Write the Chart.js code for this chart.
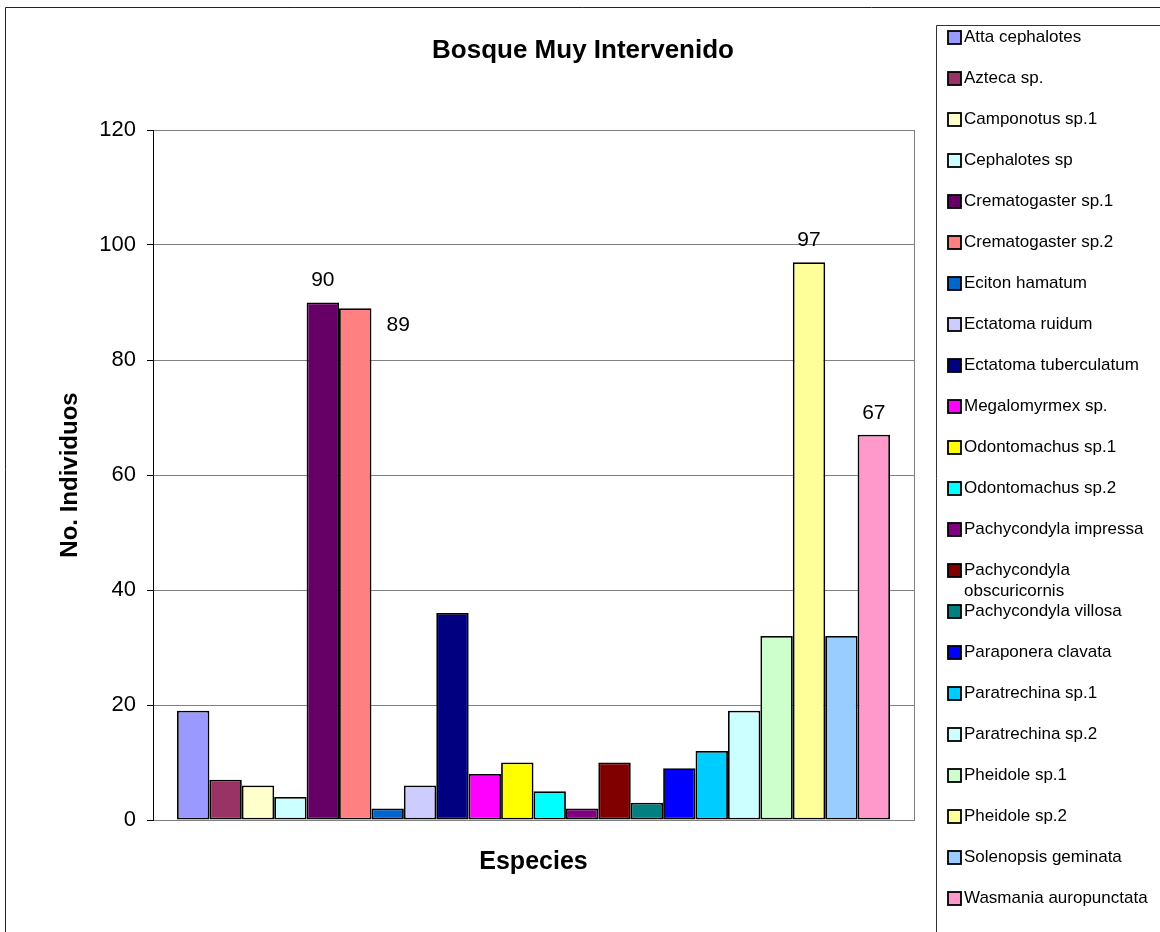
<!DOCTYPE html>
<html>
<head>
<meta charset="utf-8">
<title>Bosque Muy Intervenido</title>
<script src="https://cdn.jsdelivr.net/npm/chart.js@4.4.0/dist/chart.umd.min.js"></script>
<style>
    body { margin: 0; background: #fff; }
    #wrap { width: 1160px; height: 932px; }
</style>
</head>
<body>
<div id="wrap"><canvas id="myChart" width="1160" height="932"></canvas></div>
<script>
const especies = [
    'Atta cephalotes', 'Azteca sp.', 'Camponotus sp.1', 'Cephalotes sp',
    'Crematogaster sp.1', 'Crematogaster sp.2', 'Eciton hamatum', 'Ectatoma ruidum',
    'Ectatoma tuberculatum', 'Megalomyrmex sp.', 'Odontomachus sp.1', 'Odontomachus sp.2',
    'Pachycondyla impressa', 'Pachycondyla obscuricornis', 'Pachycondyla villosa',
    'Paraponera clavata', 'Paratrechina sp.1', 'Paratrechina sp.2', 'Pheidole sp.1',
    'Pheidole sp.2', 'Solenopsis geminata', 'Wasmania auropunctata'
];
const individuos = [19, 7, 6, 4, 90, 89, 2, 6, 36, 8, 10, 5, 2, 10, 3, 9, 12, 19, 32, 97, 32, 67];
const colores = [
    '#9999FF', '#993366', '#FFFFCC', '#CCFFFF', '#660066', '#FF8080', '#0066CC', '#CCCCFF',
    '#000080', '#FF00FF', '#FFFF00', '#00FFFF', '#800080', '#800000', '#008080', '#0000FF',
    '#00CCFF', '#CCFFFF', '#CCFFCC', '#FFFF99', '#99CCFF', '#FF99CC'
];
// only these bars get their value written next to them
const conValor = ['Crematogaster sp.1', 'Crematogaster sp.2', 'Pheidole sp.2', 'Wasmania auropunctata'];
const yTicks = [0, 20, 40, 60, 80, 100, 120];

const FONT = '"Liberation Sans", Arial, sans-serif';

// wrap legend text that is wider than the box
wrapText = function (ctx, text, maxW) {
    const words = text.split(' ');
    const lines = [];
    let cur = '';
    words.forEach(function (w) {
        const test = cur ? cur + ' ' + w : w;
        if (cur && ctx.measureText(test).width > maxW) {
            lines.push(cur);
            cur = w;
        } else {
            cur = test;
        }
    });
    lines.push(cur);
    return lines;
}

const marco = {
    id: 'marco',
    beforeDraw(chart) {
        const ctx = chart.ctx;
        ctx.save();
        ctx.fillStyle = '#fff';
        ctx.fillRect(0, 0, chart.width, chart.height);
        // outer chart frame
        ctx.strokeStyle = '#222';
        ctx.lineWidth = 1;
        ctx.beginPath();
        ctx.moveTo(5.5, chart.height);
        ctx.lineTo(5.5, 7.5);
        ctx.lineTo(chart.width, 7.5);
        ctx.stroke();
        ctx.restore();
    },
    afterDatasetsDraw(chart) {
        const ctx = chart.ctx;
        const a = chart.chartArea;
        ctx.save();
        // right edge of the plot area
        ctx.strokeStyle = '#808080';
        ctx.lineWidth = 1;
        ctx.beginPath();
        ctx.moveTo(a.right + 0.5, a.top);
        ctx.lineTo(a.right + 0.5, a.bottom);
        ctx.stroke();

        // value labels
        ctx.fillStyle = '#000';
        ctx.font = '21px ' + FONT;
        ctx.textAlign = 'center';
        ctx.textBaseline = 'middle';
        chart.data.datasets.forEach(function (ds, i) {
            if (conValor.indexOf(ds.label) < 0) return;
            const bar = chart.getDatasetMeta(i).data[0];
            let dx = 0, dy = -22;
            if (ds.label === 'Crematogaster sp.2') { dx = 43; dy = 17; }
            ctx.fillText(String(ds.data[0]), bar.x + dx, bar.y + dy);
        });
        ctx.restore();
    },
    afterDraw(chart) {
        const ctx = chart.ctx;
        ctx.save();
        // title
        ctx.fillStyle = '#000';
        ctx.font = 'bold 26px ' + FONT;
        ctx.textAlign = 'center';
        ctx.textBaseline = 'middle';
        ctx.fillText('Bosque Muy Intervenido', 583, 51);

        // legend box
        ctx.strokeStyle = '#333';
        ctx.lineWidth = 1;
        ctx.beginPath();
        ctx.moveTo(936.5, chart.height);
        ctx.lineTo(936.5, 25.5);
        ctx.lineTo(chart.width, 25.5);
        ctx.stroke();

        ctx.font = '17px ' + FONT;
        ctx.textAlign = 'left';
        let y = 37.5;
        chart.data.datasets.forEach(function (ds) {
            ctx.fillStyle = ds.backgroundColor;
            ctx.fillRect(948, y - 6.5, 13, 13);
            ctx.strokeStyle = '#000';
            ctx.lineWidth = 1.8;
            ctx.strokeRect(948, y - 6.5, 13, 13);
            ctx.fillStyle = '#000';
            wrapText(ctx, ds.label, 192).forEach(function (ln, k) {
                ctx.fillText(ln, 964, y + k * 21);
            });
            y += 41;
        });
        ctx.restore();
    }
};

const datasets = especies.map(function (nombre, i) {
    return {
        label: nombre,
        data: [individuos[i]],
        backgroundColor: colores[i],
        borderColor: '#000',
        borderWidth: 1.8,
        borderSkipped: false,
        barPercentage: 1,
        categoryPercentage: 0.937
    };
});

new Chart('myChart', {
    type: 'bar',
    data: {
        labels: ['Especies'],
        datasets: datasets
    },
    options: {
        responsive: false,
        animation: false,
        layout: { padding: { left: 0, top: 130, right: 246, bottom: 0 } },
        plugins: {
            legend: { display: false },
            title: { display: false },
            tooltip: { enabled: false }
        },
        scales: {
            x: {
                ticks: { display: false },
                grid: { display: false },
                border: { color: '#808080', width: 1 },
                title: {
                    display: true,
                    text: 'Especies',
                    color: '#000',
                    font: { family: FONT, size: 25, weight: 'bold' },
                    padding: { top: 0, bottom: 55 }
                },
                afterFit: function (s) { s.height = 112; }
            },
            y: {
                min: 0,
                max: 120,
                afterBuildTicks: function (s) {
                    s.ticks = yTicks.map(function (v) { return { value: v }; });
                },
                ticks: {
                    color: '#000',
                    padding: 11,
                    font: { family: FONT, size: 22 }
                },
                grid: {
                    color: '#808080',
                    lineWidth: 1,
                    tickColor: '#000',
                    tickLength: 6
                },
                border: { color: '#000', width: 1 },
                title: {
                    display: true,
                    text: 'No. Individuos',
                    color: '#000',
                    font: { family: FONT, size: 24, weight: 'bold' },
                    padding: { top: 56, bottom: 0 }
                },
                afterFit: function (s) { s.width = 153; }
            }
        }
    },
    plugins: [marco]
});
</script>
</body>
</html>
